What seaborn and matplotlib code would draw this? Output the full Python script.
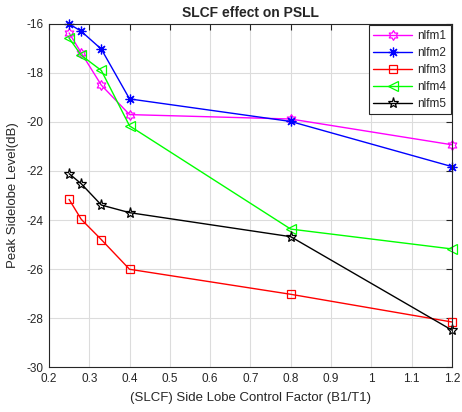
import numpy as np
import pandas as pd
import matplotlib
matplotlib.use("Agg")
import matplotlib.pyplot as plt
from matplotlib.path import Path
import seaborn as sns

# Side lobe control factor values
slcf = [0.25, 0.28, 0.33, 0.40, 0.80, 1.20]

# Peak sidelobe level (dB) for each NLFM design
nlfm1 = [-16.37, -17.18, -18.50, -19.70, -19.88, -20.93]
nlfm2 = [-16.00, -16.30, -17.03, -19.06, -19.98, -21.82]
nlfm3 = [-23.16, -23.97, -24.80, -26.01, -27.03, -28.16]
nlfm4 = [-16.58, -17.28, -17.90, -20.16, -24.37, -25.18]
nlfm5 = [-22.11, -22.52, -23.39, -23.70, -24.68, -28.49]

series_names = ["nlfm1", "nlfm2", "nlfm3", "nlfm4", "nlfm5"]
series_values = [nlfm1, nlfm2, nlfm3, nlfm4, nlfm5]

x_ticks = [0.2, 0.3, 0.4, 0.5, 0.6, 0.7, 0.8, 0.9, 1.0, 1.1, 1.2]
x_tick_labels = ["0.2", "0.3", "0.4", "0.5", "0.6", "0.7", "0.8", "0.9", "1", "1.1", "1.2"]
y_ticks = [-30, -28, -26, -24, -22, -20, -18, -16]

df = pd.DataFrame({
    "SLCF": slcf * len(series_names),
    "PSLL": [v for vals in series_values for v in vals],
    "series": [n for n in series_names for _ in slcf],
})

# six-pointed star (hexagram) marker shape
ang = np.pi / 2 + np.arange(12) * np.pi / 6
rad = np.where(np.arange(12) % 2 == 0, 1.0, 1.0 / np.sqrt(3))
hex_verts = np.column_stack([rad * np.cos(ang), rad * np.sin(ang)])
hex_verts = np.vstack([hex_verts, hex_verts[:1]])
hexagram = Path(hex_verts, closed=True)

styles = {
    "nlfm1": dict(color="#FF00FF", marker=hexagram, ms=7),
    "nlfm2": dict(color="#0000FF", marker=(8, 2, 0), ms=7),
    "nlfm3": dict(color="#FF0000", marker="s", ms=6),
    "nlfm4": dict(color="#00FF00", marker="<", ms=7),
    "nlfm5": dict(color="#000000", marker="*", ms=8),
}

sns.set_style("white")
plt.rcParams["font.family"] = ["Liberation Sans", "DejaVu Sans"]
plt.rcParams["axes.unicode_minus"] = False

fig = plt.figure(figsize=(4.62, 4.12), dpi=100)
ax = fig.add_axes([0.106, 0.109, 0.872, 0.833])

for name in series_names:
    st = styles[name]
    sub = df[df["series"] == name]
    sns.lineplot(data=sub, x="SLCF", y="PSLL", ax=ax, label=name,
                 color=st["color"], marker=st["marker"], markersize=st["ms"],
                 markerfacecolor="none", markeredgecolor=st["color"],
                 markeredgewidth=0.9, linewidth=1.0, clip_on=False)

ax.set_xlim(0.2, 1.2)
ax.set_ylim(-30, -16)
ax.set_xticks(x_ticks)
ax.set_xticklabels(x_tick_labels)
ax.set_yticks(y_ticks)
ax.grid(True, color="#dcdcdc", linewidth=0.8)
ax.set_axisbelow(True)
ax.tick_params(direction="in", top=True, right=True, length=4, width=0.8,
               labelsize=8.5, colors="#262626", labelcolor="#262626", pad=4)
for sp in ax.spines.values():
    sp.set_visible(True)
    sp.set_color("#262626")
    sp.set_linewidth(0.8)

ax.set_xlabel("(SLCF) Side Lobe Control Factor (B1/T1)", fontsize=9.5, color="#262626", labelpad=5)
ax.set_ylabel("Peak Sidelobe Level(dB)", fontsize=9.5, color="#262626", labelpad=5)
ax.set_title("SLCF effect on PSLL", fontsize=10, fontweight="bold", pad=5)

leg = ax.legend(loc="upper right", fontsize=8.5, frameon=True, fancybox=False,
                borderaxespad=0.1, handlelength=3.3, labelspacing=0.42,
                borderpad=0.4, handletextpad=0.4)
leg.get_frame().set_edgecolor("#262626")
leg.get_frame().set_linewidth(0.8)
leg.get_frame().set_alpha(1)

fig.savefig("out.png", dpi=100)
